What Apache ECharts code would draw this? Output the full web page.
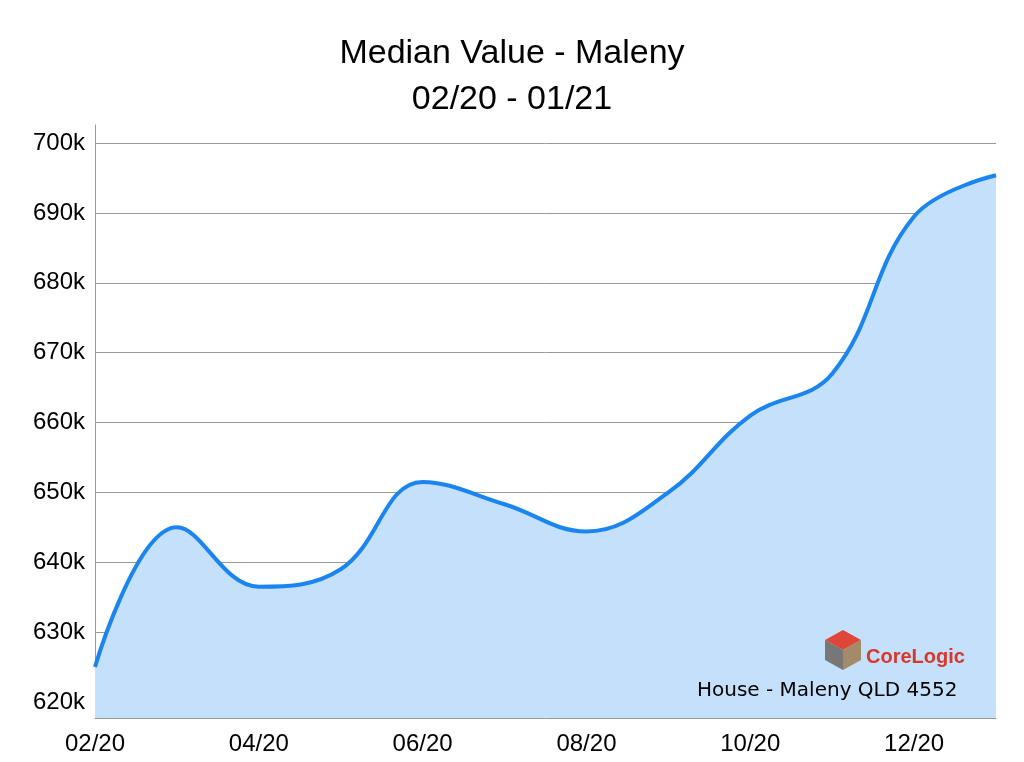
<!DOCTYPE html>
<html><head><meta charset="utf-8">
<script src="https://cdn.jsdelivr.net/npm/echarts@6/dist/echarts.min.js"></script>
<style>body{margin:0}#main{width:1024px;height:762px}</style></head>
<body><div id="main"></div>
<script>
// monthly median values, in thousands
const months = ['02/20','03/20','04/20','05/20','06/20','07/20','08/20','09/20','10/20','11/20','12/20','01/21'];
const values = [625, 645, 636.5, 639, 651.5, 648.3, 644.4, 650, 661, 667, 689.5, 695.4];
const yTicks = [620, 630, 640, 650, 660, 670, 680, 690, 700];

var chart = echarts.init(document.getElementById('main'));
chart.setOption({
  animation: false,
  title: {
    text: 'Median Value - Maleny\n02/20 - 01/21',
    left: 'center', top: 26,
    textStyle: { fontSize: 34, fontWeight: 'normal', color: '#000', lineHeight: 46, fontFamily: 'Liberation Sans' }
  },
  grid: { left: 95, right: 28, top: 125, bottom: 44 },
  xAxis: {
    type: 'category', data: months, boundaryGap: false,
    axisLine: { lineStyle: { color: '#999' } },
    axisTick: { show: false },
    axisLabel: { interval: 1, color: '#000', fontSize: 24, margin: 14, fontFamily: 'Liberation Sans' }
  },
  yAxis: {
    type: 'value', min: 617.7, max: 702.6,
    axisLine: { show: true, lineStyle: { color: '#999' } },
    axisTick: { show: false, customValues: yTicks },
    axisLabel: { customValues: yTicks, formatter: '{value}k', color: '#000', fontSize: 24, margin: 10, fontFamily: 'Liberation Sans' },
    splitLine: { lineStyle: { color: '#999', width: 1 } }
  },
  series: [{
    type: 'line', data: values, smooth: 0.4, symbol: 'none',
    lineStyle: { color: '#1a84f0', width: 4 },
    areaStyle: { color: '#c4e0fb', opacity: 1 }
  }],
  graphic: { elements: [
    { type: 'polygon', z: 100, shape: { points: [[825,640],[843,630],[861,640],[843,650]] }, style: { fill: '#e0453a' } },
    { type: 'polygon', z: 100, shape: { points: [[825,640],[843,650],[843,670],[825,660]] }, style: { fill: '#777777' } },
    { type: 'polygon', z: 100, shape: { points: [[843,650],[861,640],[861,660],[843,670]] }, style: { fill: '#a58a6a' } },
    { type: 'text', z: 100, x: 866, y: 647, style: { text: 'CoreLogic', fill: '#d9372c', fontSize: 20, fontWeight: 'bold', fontFamily: 'Liberation Sans' } },
    { type: 'text', z: 100, x: 697, y: 681, style: { text: 'House - Maleny QLD 4552', fill: '#000', fontSize: 20, fontFamily: 'DejaVu Sans' } }
  ] }
});
</script></body></html>
